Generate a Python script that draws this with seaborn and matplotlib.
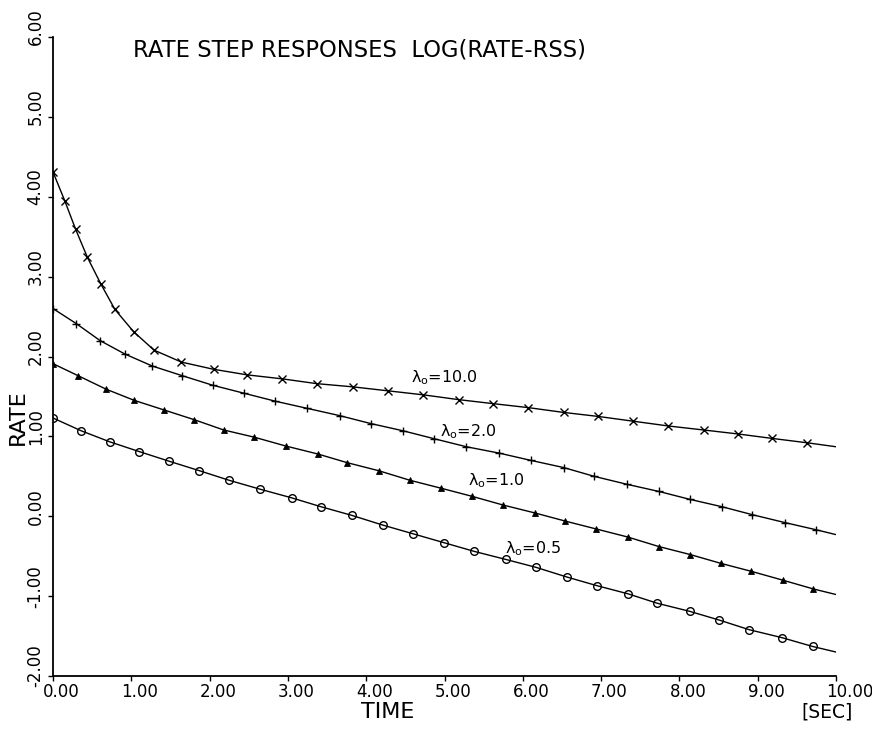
import numpy as np
import pandas as pd
import matplotlib
matplotlib.use("Agg")
import matplotlib.pyplot as plt
import matplotlib.transforms as mtrans
import seaborn as sns

# ---- data (time in s, log(rate - rss)) ----
t_10 = [0.0, 0.15, 0.29, 0.44, 0.61, 0.79, 1.03, 1.29, 1.64, 2.05, 2.48, 2.93, 3.37, 3.83,
        4.28, 4.73, 5.18, 5.62, 6.07, 6.52, 6.96, 7.41, 7.86, 8.31, 8.75, 9.18, 9.63, 10.0]
r_10 = [4.31, 3.95, 3.59, 3.24, 2.91, 2.59, 2.31, 2.08, 1.93, 1.84, 1.77, 1.72, 1.66, 1.62,
        1.57, 1.52, 1.46, 1.41, 1.36, 1.30, 1.25, 1.19, 1.13, 1.08, 1.03, 0.975, 0.92, 0.87]

t_2 = [0.0, 0.30, 0.60, 0.92, 1.27, 1.65, 2.04, 2.44, 2.84, 3.25, 3.66, 4.06, 4.47, 4.87,
       5.28, 5.70, 6.10, 6.52, 6.91, 7.33, 7.74, 8.14, 8.54, 8.93, 9.35, 9.75, 10.0]
r_2 = [2.60, 2.41, 2.20, 2.03, 1.88, 1.76, 1.64, 1.54, 1.44, 1.35, 1.26, 1.16, 1.07, 0.97,
       0.87, 0.79, 0.70, 0.61, 0.50, 0.40, 0.31, 0.21, 0.12, 0.02, -0.08, -0.17, -0.23]

t_1 = [0.0, 0.32, 0.68, 1.04, 1.42, 1.80, 2.18, 2.57, 2.97, 3.38, 3.76, 4.16, 4.56, 4.96,
       5.35, 5.75, 6.16, 6.54, 6.94, 7.34, 7.74, 8.14, 8.53, 8.92, 9.32, 9.71, 10.0]
r_1 = [1.91, 1.76, 1.59, 1.45, 1.33, 1.21, 1.08, 0.99, 0.88, 0.78, 0.67, 0.57, 0.45, 0.35,
       0.25, 0.14, 0.04, -0.06, -0.16, -0.26, -0.38, -0.48, -0.59, -0.69, -0.80, -0.91, -0.98]

t_05 = [0.0, 0.36, 0.73, 1.10, 1.48, 1.87, 2.25, 2.64, 3.05, 3.42, 3.82, 4.21, 4.60, 4.99,
        5.38, 5.78, 6.17, 6.56, 6.95, 7.34, 7.72, 8.13, 8.51, 8.89, 9.31, 9.70, 10.0]
r_05 = [1.23, 1.07, 0.93, 0.81, 0.69, 0.57, 0.45, 0.34, 0.23, 0.12, 0.01, -0.11, -0.22, -0.33,
        -0.44, -0.54, -0.64, -0.76, -0.87, -0.97, -1.09, -1.19, -1.30, -1.42, -1.52, -1.63, -1.70]

series_labels = ["10.0", "2.0", "1.0", "0.5"]
x_ticks = [0, 1, 2, 3, 4, 5, 6, 7, 8, 9, 10]
y_ticks = [-2, -1, 0, 1, 2, 3, 4, 5, 6]
x_tick_labels = [f"{v:.2f}" for v in x_ticks]
y_tick_labels = [f"{v:.2f}" for v in y_ticks]

title_text = "RATE STEP RESPONSES  LOG(RATE-RSS)"

# ---- styling ----
sns.set_theme(style="white")
plt.rcParams["font.family"] = ["DejaVu Sans"]
plt.rcParams["mathtext.default"] = "regular"

W, H, DPI = 872, 729, 100
fig = plt.figure(figsize=(W / DPI, H / DPI), dpi=DPI, facecolor="white")
ax = fig.add_axes([53 / W, 1 - 676 / H, (836 - 53) / W, (676 - 37) / H])
ax.set_facecolor("white")

styles = [
    (t_10, r_10, dict(marker="x", markersize=5.5, mew=1.0, mfc="black")),
    (t_2, r_2, dict(marker="+", markersize=6.2, mew=1.0, mfc="black")),
    (t_1, r_1, dict(marker="^", markersize=4.2, mew=0.6, mfc="black")),
    (t_05, r_05, dict(marker="o", markersize=5.5, mew=1.0, mfc="none")),
]
for tt, rr, st in styles:
    df = pd.DataFrame({"time": tt, "rate": rr})
    sns.lineplot(data=df, x="time", y="rate", ax=ax, color="black", lw=1.0,
                 mec="black", markevery=list(range(len(tt) - 1)), **st)

# curve labels
label_pos = [(4.57, 1.683), (4.94, 1.007), (5.30, 0.39), (5.77, -0.461)]
for lab, (lx, ly) in zip(series_labels, label_pos):
    ax.text(lx, ly, r"$\lambda_{\mathrm{o}}$=" + lab, fontsize=11.5, ha="left",
            va="baseline", color="black")

ax.set_xlim(0, 10)
ax.set_ylim(-2, 6)
ax.set_xticks(x_ticks)
ax.set_yticks(y_ticks)
ax.set_xticklabels(x_tick_labels, fontsize=12, ha="left")
ax.set_yticklabels(y_tick_labels, fontsize=12, rotation=90, va="center")
ax.set_xlabel("")
ax.set_ylabel("")

for side in ["top", "right"]:
    ax.spines[side].set_visible(False)
for side in ["left", "bottom"]:
    ax.spines[side].set_color("black")
    ax.spines[side].set_linewidth(1.3)
ax.tick_params(axis="both", direction="out", length=3.5, width=1.0, color="black",
               labelcolor="black", left=True, bottom=True)
ax.tick_params(axis="x", pad=1.5)
ax.tick_params(axis="y", pad=2.5)

# shift tick labels like the plotter output
dx = mtrans.ScaledTranslation(-10 / DPI, 0, fig.dpi_scale_trans)
dy = mtrans.ScaledTranslation(0, 10 / DPI, fig.dpi_scale_trans)
for lbl in ax.get_xticklabels():
    lbl.set_transform(lbl.get_transform() + dx)
for lbl in ax.get_yticklabels():
    lbl.set_transform(lbl.get_transform() + dy)

fig.text(133 / W, 1 - 56.7 / H, title_text, fontsize=16.3, ha="left", va="baseline",
         color="black")
fig.text(388 / W, 1 - 718 / H, "TIME", fontsize=16, ha="center", va="baseline",
         color="black")
fig.text(826.7 / W, 1 - 718 / H, "[SEC]", fontsize=13.5, ha="center", va="baseline",
         color="black")
fig.text(18 / W, 1 - 416.7 / H, "RATE", fontsize=16, rotation=90, ha="center",
         va="center", color="black")

fig.savefig("out.png", dpi=DPI, facecolor="white")
